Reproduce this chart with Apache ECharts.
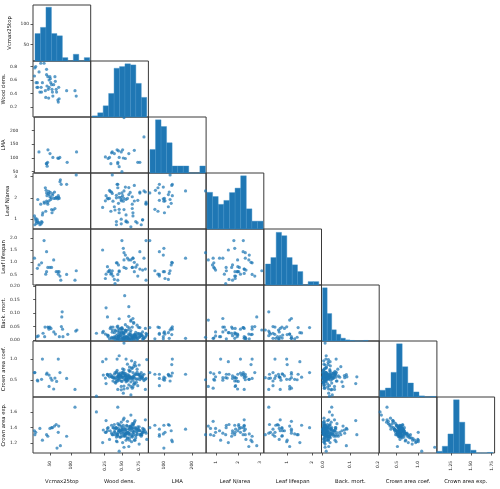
<!DOCTYPE html>
<html>
<head>
<meta charset="utf-8">
<script src="https://cdn.jsdelivr.net/npm/echarts@6.0.0/dist/echarts.min.js"></script>
<style>
html, body { margin: 0; padding: 0; background: #fff; }
#main { width: 500px; height: 489px; }
</style>
</head>
<body>
<div id="main"></div>
<script>
// variables of the matrix
var names = ['Vcmax25top', 'Wood dens.', 'LMA', 'Leaf N/area', 'Leaf lifespan', 'Back. mort.', 'Crown area coef.', 'Crown area exp.'];
var axMin = [9.5, 0.047, 45, 0.54, 0.06, -0.004, 0.1, 1.077];
var axMax = [147.6, 0.884, 250, 3.16, 2.38, 0.205, 1.43, 1.79];
var xTickLabels = [['50', '100'], ['0.25', '0.50', '0.75'], ['100', '200'], ['1', '2', '3'], ['1', '2'],
                   ['0.0', '0.1', '0.2'], ['0.5', '1.0'], ['1.25', '1.50', '1.75']];
var yTickLabels = [['50', '100'], ['0.2', '0.4', '0.6', '0.8'], ['50', '100', '150', '200'], ['1', '2', '3'],
                   ['0.5', '1.0', '1.5', '2.0'], ['0.00', '0.05', '0.10', '0.15', '0.20'], ['0.5', '1.0'], ['1.2', '1.4', '1.6']];

// histograms on the diagonal (bar height as share of the cell)
var histStart = [14.3, 0.07, 50.5, 0.58, 0.13, 0, 0.114, 1.074];
var histWidth = [13.1, 0.079, 19.7, 0.255, 0.214, 0.0165, 0.129, 0.0696];
var histVcmax = [0.49, 0.60, 0.96, 0.49, 0.45, 0.06, 0, 0.12, 0, 0.06];
var histWood = [0.02, 0.075, 0.2, 0.42, 0.87, 0.9, 0.95, 0.93, 0.6, 0.35];
var histLma = [0.42, 0.95, 0.83, 0.54, 0.125, 0.125, 0.125, 0, 0, 0.125];
var histLeafN = [0.655, 0.58, 0.44, 0.51, 0.65, 0.73, 0.95, 0.36, 0.14, 0.14];
var histLife = [0.375, 0.49, 0.94, 0.88, 0.49, 0.36, 0.24, 0, 0.06, 0.06];
var histMort = [0.95, 0.49, 0.2, 0.12, 0.05, 0.02, 0.01, 0, 0, 0.01];
var histCoef = [0.12, 0.16, 0.44, 0.95, 0.54, 0.25, 0.09, 0.02, 0, 0.01];
var histExp = [0.03, 0.12, 0.34, 0.95, 0.55, 0.16, 0.05, 0, 0, 0.01];
var hists = [histVcmax, histWood, histLma, histLeafN, histLife, histMort, histCoef, histExp];

// species with Vcmax
var vcA = [13, 14, 15, 16, 17, 18, 19, 20, 21, 22,
           24, 26, 28, 29, 30, 31, 32, 33, 36, 37,
           39, 40, 41, 42, 42, 43, 44, 45, 46, 47,
           48, 48, 50, 51, 52, 53, 54, 55, 56, 57,
           58, 59, 61, 62, 63, 65, 66, 67, 69, 70,
           71, 72, 74, 75, 76, 77, 78, 90, 110, 113,
           140];
var wdA = [0.66, 0.78, null, 0.80, 0.56, null, 0.49, 0.56, 0.49, null,
           0.72, 0.42, 0.85, 0.49, 0.42, null, 0.56, null, 0.85, null,
           0.44, 0.34, null, 0.76, 0.68, 0.51, null, 0.65, 0.46, 0.33,
           0.60, 0.49, 0.65, 0.62, 0.56, null, 0.53, 0.46, 0.42, 0.36,
           null, 0.53, null, 0.65, 0.58, 0.46, 0.42, null, 0.30, 0.27,
           0.49, 0.32, null, null, null, null, null, 0.44, 0.44, 0.36,
           null];
var lmaA = [null, null, null, null, null, null, null, null, 122, null,
            null, null, null, null, null, null, null, null, null, null,
            79, 79, 70, 84, null, 130, null, null, null, null,
            116, null, null, null, null, null, null, 102, null, null,
            null, null, null, null, null, null, null, 100, 98, null,
            null, 102, null, null, null, null, null, 84, null, 122,
            null];
var lnA = [1.15, 0.74, 1.05, 0.97, 0.88, 0.80, 1.00, 0.92, 1.92, 0.85,
           0.83, 0.74, 1.70, 0.78, 0.89, 0.85, 1.20, 1.30, 1.80, 1.75,
           2.47, 1.37, 2.35, 2.22, 1.85, 2.10, 1.78, 1.70, 2.20, 2.30,
           2.15, 1.86, 2.05, 2.25, 1.92, 2.00, 1.45, 1.30, 2.12, 2.20,
           1.43, 1.97, 2.27, 1.50, 1.97, 2.02, 2.00, null, 1.95, 2.10,
           2.02, 1.97, 2.75, 2.84, null, 2.63, null, 2.63, null, 3.07,
           null];
var llA = [1.17, null, null, null, null, null, null, 0.75, null, null,
           0.89, null, null, null, 0.98, null, null, null, 1.90, null,
           null, 0.51, null, 1.44, 0.61, null, null, 0.79, null, null,
           null, null, 0.79, null, null, null, 0.79, null, null, null,
           null, 1.10, null, null, null, 0.61, null, null, 0.61, 0.51,
           null, 0.61, 0.43, null, 0.26, null, null, 0.50, 0.26, 0.65,
           null];
var bmA = [0.012, null, null, 0.015, null, null, null, null, null, null,
           null, null, 0.025, null, null, null, 0.012, 0.048, null, null,
           null, 0.048, null, 0.046, null, 0.040, null, 0.048, null, null,
           null, 0.043, null, null, null, null, null, 0.030, null, null,
           null, 0.022, null, null, null, null, null, null, 0.012, null,
           null, null, 0.050, 0.086, 0.105, 0.040, 0.012, 0.021, 0.033, 0.037,
           null];
var ccA = [0.68, 0.68, null, null, null, null, null, 0.50, 0.48, null,
           null, null, null, null, 0.52, null, 1.00, null, null, null,
           null, null, null, 0.64, null, 0.67, null, null, null, null,
           0.62, 0.35, null, null, 0.55, null, null, 0.50, null, null,
           null, 0.29, null, 0.55, null, null, 0.47, null, null, 1.00,
           null, null, 0.68, null, null, null, null, 0.54, 0.28, null,
           null];
var ceA = [1.36, 1.31, null, 1.34, null, null, null, null, null, null,
           null, 1.39, null, null, null, null, 1.24, null, null, null,
           null, null, null, 1.31, null, null, null, 1.29, null, null,
           null, null, 1.39, null, null, null, 1.40, null, 1.40, null,
           null, null, 1.42, null, null, 1.44, null, 1.14, null, 1.34,
           1.42, null, null, 1.17, null, null, null, 1.29, 1.66, null,
           null];

// species with leaf traits but no Vcmax
var wdC = [0.22, 0.26, 0.29, 0.32, 0.35, 0.37, 0.39, 0.40, 0.43, 0.45,
           0.46, 0.50, 0.52, 0.53, 0.55, 0.58, 0.60, 0.63, 0.66, 0.68,
           0.70, 0.73, 0.76, 0.80, 0.82, 0.84, 0.85];
var lmaC = [null, 104, null, null, 119, null, 116, null, 130, 126,
            68, 50, 100, 248, 98, null, null, null, null, 128,
            null, 84, null, null, 177, null, null];
var lnC = [1.55, 1.86, 1.98, 2.35, 2.27, 1.84, 1.58, 1.43, 2.63, 1.74,
           1.46, 2.23, 1.84, 2.32, 2.50, 0.86, 2.48, 0.64, 1.30, 2.58,
           0.89, 1.88, 2.27, 0.97, 2.32, 2.27, 1.74];
var llC = [1.51, 0.33, 0.82, 0.68, 0.54, 0.43, 0.29, 0.12, 0.98, 0.89,
           0.65, 1.90, 1.58, 1.40, 1.30, 1.17, 1.10, 1.10, 1.17, 1.00,
           0.80, 0.43, 0.72, 0.68, 1.17, 0.72, 0.26];
var bmC = [0.027, 0.022, 0.018, 0.004, 0.006, 0.006, 0.027, 0.037, 0.049, 0.043,
           0.004, 0.046, 0.026, 0.010, 0.004, 0.006, 0.022, 0.074, 0.080, 0.020,
           0.007, 0.025, 0.012, 0.030, 0.006, 0.043, 0.016];
var ccC = [0.94, 0.55, 0.64, 0.58, 0.60, 0.48, 0.64, 0.56, 1.00, 0.60,
           0.64, 0.68, 0.57, 0.51, 0.52, 0.31, 0.52, 0.35, 0.56, 0.87,
           0.65, 0.37, 0.56, 0.58, 0.64, 0.28, 0.54];
var ceC = [1.21, 1.34, 1.36, 1.25, 1.43, 1.31, 1.44, 1.31, 1.22, 1.36,
           1.43, 1.40, 1.43, 1.31, 1.32, 1.48, 1.16, 1.42, 1.33, 1.24,
           1.30, 1.38, 1.36, 1.39, 1.38, 1.50, 1.33];

// remaining species: wood density, mortality, crown allometry
var wdB = [0.62, 0.48, 0.71, 0.55, 0.40, 0.66, 0.52, 0.79, 0.44, 0.58,
           0.69, 0.35, 0.60, 0.50, 0.75, 0.46, 0.64, 0.56, 0.82, 0.42,
           0.67, 0.53, 0.73, 0.38, 0.61, 0.49, 0.70, 0.57, 0.45, 0.63,
           0.54, 0.77, 0.41, 0.68, 0.51, 0.59, 0.30, 0.72, 0.47, 0.65,
           0.55, 0.84, 0.43, 0.62, 0.50, 0.74, 0.58, 0.36, 0.66, 0.52,
           0.69, 0.46, 0.60, 0.78, 0.40, 0.56, 0.64, 0.48, 0.71, 0.33,
           0.61, 0.53, 0.76, 0.44, 0.67, 0.57, 0.49, 0.80, 0.63, 0.42,
           0.58, 0.70, 0.51, 0.27, 0.65, 0.55, 0.73, 0.45, 0.60, 0.86,
           0.39, 0.62, 0.54, 0.68, 0.47, 0.59, 0.75, 0.52, 0.64, 0.23,
           0.57, 0.72, 0.43, 0.66, 0.50, 0.81, 0.61, 0.37, 0.56, 0.69,
           0.48, 0.63, 0.54, 0.78, 0.29, 0.60, 0.46, 0.67, 0.13, 0.53];
var bmB = [0.004, 0.021, 0.012, 0.035, 0.002, 0.008, 0.027, 0.015, 0.052, 0.006,
           0.018, 0.010, 0.003, 0.041, 0.024, 0.001, 0.013, 0.030, 0.007, 0.016,
           0.062, 0.005, 0.019, 0.011, 0.045, 0.002, 0.028, 0.009, 0.014, 0.070,
           0.004, 0.022, 0.033, 0.012, 0.006, 0.038, 0.017, 0.001, 0.025, 0.008,
           0.057, 0.011, 0.003, 0.020, 0.013, 0.047, 0.005, 0.029, 0.010, 0.002,
           0.016, 0.079, 0.007, 0.023, 0.012, 0.034, 0.004, 0.018, 0.009, 0.043,
           0.001, 0.026, 0.014, 0.006, 0.066, 0.011, 0.031, 0.003, 0.019, 0.008,
           0.050, 0.015, 0.002, 0.120, 0.010, 0.037, 0.005, 0.013, 0.088, 0.021,
           0.007, 0.027, 0.012, 0.003, 0.040, 0.016, 0.009, 0.022, 0.001, 0.032,
           0.011, 0.055, 0.004, 0.018, 0.028, 0.006, 0.014, 0.048, 0.002, 0.020,
           0.010, 0.035, 0.165, 0.017, 0.086, 0.124, 0.013, 0.003, 0.025, 0.009];
var ccB = [0.57, 0.61, 0.52, 0.66, 0.45, 0.59, 0.70, 0.55, 0.48, 0.63,
           0.41, 0.58, 0.74, 0.56, 0.62, 0.53, 0.79, 0.60, 0.49, 0.67,
           0.57, 0.36, 0.64, 0.55, 0.71, 0.60, 0.84, 0.51, 0.58, 0.46,
           0.65, 0.59, 0.43, 0.62, 0.77, 0.54, 0.61, 0.69, 0.56, 0.31,
           0.60, 0.52, 0.73, 0.58, 0.47, 0.63, 0.88, 0.57, 0.50, 0.66,
           0.55, 0.61, 0.39, 0.58, 0.68, 0.53, 0.96, 0.60, 0.45, 0.64,
           0.57, 0.75, 0.51, 0.59, 0.82, 0.56, 0.27, 0.62, 0.54, 0.70,
           0.48, 0.63, 0.57, 0.42, 0.78, 0.60, 0.53, 0.65, 0.58, 0.99,
           0.55, 0.72, 0.61, 0.44, 0.67, 0.59, 0.86, 0.19, 0.56, 0.62,
           0.50, 0.76, 0.58, 0.34, 0.64, 0.53, 0.81, 0.57, 0.46, 0.92,
           0.60, 0.15, null, 0.55, 0.63, 0.58, 1.08, 0.40, 0.12, 1.38];
var ceB = [1.41, 1.28, 1.35, 1.37, 1.38, 1.40, 1.33, 1.31, 1.45, 1.27,
           1.49, 1.33, 1.33, 1.29, 1.41, 1.36, 1.30, 1.35, 1.37, 1.28,
           1.34, 1.52, 1.36, 1.40, 1.24, 1.32, 1.27, 1.43, 1.39, 1.36,
           1.38, 1.31, 1.40, 1.36, 1.21, 1.34, 1.40, 1.33, 1.28, 1.45,
           1.29, 1.35, 1.32, 1.42, 1.37, 1.38, 1.26, 1.31, 1.43, 1.35,
           1.40, 1.37, 1.41, 1.29, 1.34, 1.32, 1.22, 1.34, 1.38, 1.36,
           1.38, 1.29, 1.36, 1.31, 1.31, 1.33, 1.47, 1.35, 1.40, 1.23,
           1.34, 1.39, 1.37, 1.49, 1.28, 1.32, 1.41, 1.34, 1.38, 1.25,
           1.35, 1.32, 1.30, 1.47, 1.36, 1.33, 1.19, 1.50, 1.39, 1.37,
           1.42, 1.31, 1.31, 1.44, 1.38, 1.34, 1.27, 1.40, 1.38, 1.24,
           1.36, 1.56, null, 1.32, 1.39, 1.31, 1.10, 1.45, 1.60, 1.15];

function blanks(n) { var a = []; for (var k = 0; k < n; k++) a.push(null); return a; }
var nA = vcA.length, nC = wdC.length, nB = wdB.length;
var cols = [
    vcA.concat(blanks(nC), blanks(nB)),
    wdA.concat(wdC, wdB),
    lmaA.concat(lmaC, blanks(nB)),
    lnA.concat(lnC, blanks(nB)),
    llA.concat(llC, blanks(nB)),
    bmA.concat(bmC, bmB),
    ccA.concat(ccC, ccB),
    ceA.concat(ceC, ceB)
];

var chart = echarts.init(document.getElementById('main'));
var cellW = 57.7, cellH = 56, left0 = 33, top0 = 5;
var blue = '#1f77b4';
var tickFont = { fontFamily: 'DejaVu Sans', fontSize: 4.4, color: '#222' };
var nameFont = { fontFamily: 'DejaVu Sans', fontSize: 5.3, color: '#111' };

function fmt(labels) {
    return function (v) {
        for (var k = 0; k < labels.length; k++) {
            if (Math.abs(Number(labels[k]) - v) < 1e-9) return labels[k];
        }
        return '';
    };
}

function valueYAxis(g, i, showLabels, margin) {
    var vals = yTickLabels[i].map(Number);
    return {
        gridIndex: g, type: 'value', min: axMin[i], max: axMax[i], position: 'left',
        axisLine: { show: false }, splitLine: { show: false },
        axisTick: { show: showLabels, length: 2.5, customValues: vals, lineStyle: { color: '#333', width: 0.8 } },
        axisLabel: Object.assign({ show: showLabels, margin: margin, customValues: vals, formatter: fmt(yTickLabels[i]) }, tickFont),
        name: showLabels ? names[i] : '', nameLocation: 'middle', nameRotate: 90, nameGap: 21,
        nameTextStyle: nameFont
    };
}

var grids = [], xAxes = [], yAxes = [], series = [];
for (var i = 0; i < 8; i++) {
    for (var j = 0; j <= i; j++) {
        var g = grids.length;
        grids.push({
            left: left0 + j * cellW, top: top0 + i * cellH, width: cellW, height: cellH,
            show: true, borderColor: '#3a3a3a', borderWidth: 1, backgroundColor: 'transparent'
        });
        var bottom = (i === 7);
        var xv = xTickLabels[j].map(Number);
        xAxes.push({
            gridIndex: g, type: 'value', min: axMin[j], max: axMax[j],
            axisLine: { show: false }, splitLine: { show: false },
            axisTick: { show: bottom, length: 2.5, customValues: xv, lineStyle: { color: '#333', width: 0.8 } },
            axisLabel: Object.assign({ show: bottom, rotate: 90, margin: 8, customValues: xv, formatter: fmt(xTickLabels[j]) }, tickFont),
            name: bottom ? names[j] : '', nameLocation: 'middle', nameGap: 26,
            nameTextStyle: nameFont
        });

        if (i === j) {
            var hy = yAxes.length;
            yAxes.push({ gridIndex: g, type: 'value', min: 0, max: 1, show: false });
            if (i === 0) yAxes.push(valueYAxis(g, 0, true, 4));
            var bars = [];
            for (var k = 0; k < hists[i].length; k++) {
                bars.push([histStart[i] + k * histWidth[i], histStart[i] + (k + 1) * histWidth[i], hists[i][k]]);
            }
            series.push({
                type: 'custom', xAxisIndex: g, yAxisIndex: hy, silent: true,
                encode: { x: [0, 1], y: 2 },
                data: bars,
                renderItem: function (params, api) {
                    var p0 = api.coord([api.value(0), api.value(2)]);
                    var p1 = api.coord([api.value(1), 0]);
                    return {
                        type: 'rect',
                        shape: { x: p0[0], y: p0[1], width: p1[0] - p0[0], height: p1[1] - p0[1] },
                        style: { fill: blue, stroke: '#3f8fc8', lineWidth: 0.4 }
                    };
                }
            });
        } else {
            var ya = yAxes.length;
            yAxes.push(valueYAxis(g, i, j === 0, 16));
            var pts = [];
            for (var r = 0; r < cols[0].length; r++) {
                if (cols[j][r] != null && cols[i][r] != null) pts.push([cols[j][r], cols[i][r]]);
            }
            series.push({
                type: 'scatter', xAxisIndex: g, yAxisIndex: ya, silent: true,
                symbolSize: 3.2, data: pts,
                itemStyle: { color: blue, opacity: 0.72 }
            });
        }
    }
}

chart.setOption({
    animation: false,
    backgroundColor: '#fff',
    grid: grids,
    xAxis: xAxes,
    yAxis: yAxes,
    series: series
});
</script>
</body>
</html>
